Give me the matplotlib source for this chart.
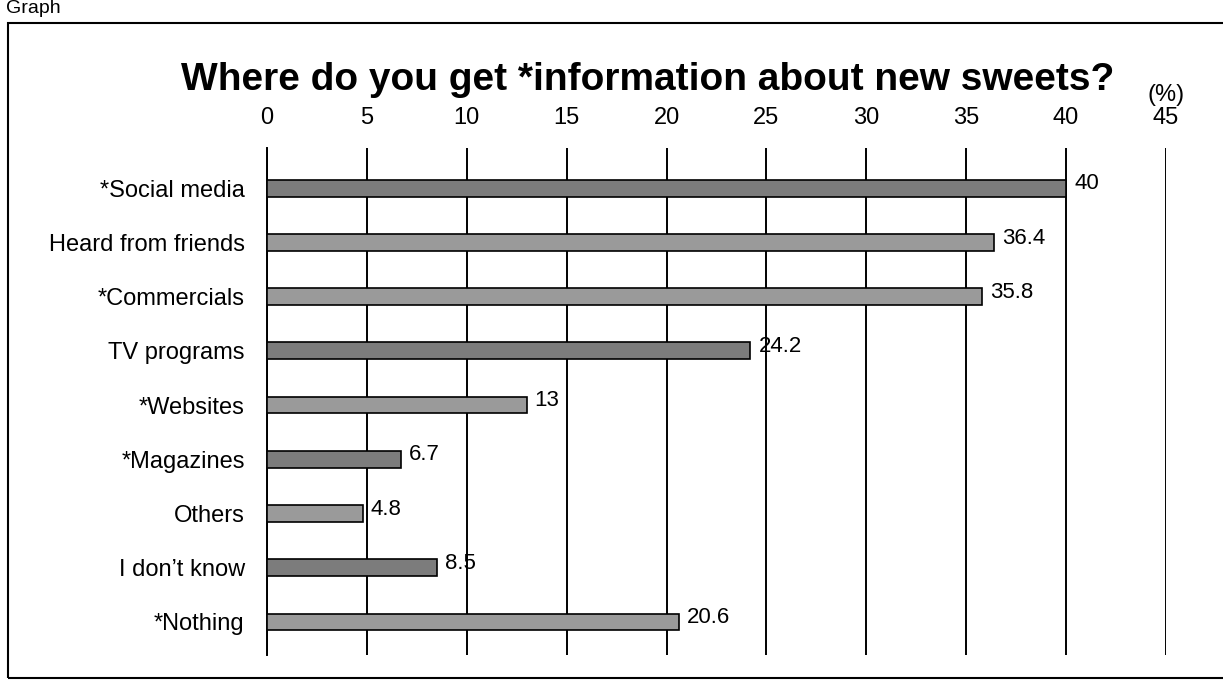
import matplotlib.pyplot as plt
from matplotlib.patches import Rectangle

plt.rcParams['font.family'] = ['Liberation Sans', 'DejaVu Sans']

# survey data (%)
categories = ['*Social media', 'Heard from friends', '*Commercials', 'TV programs',
              '*Websites', '*Magazines', 'Others', "I don\u2019t know", '*Nothing']
values = [40, 36.4, 35.8, 24.2, 13, 6.7, 4.8, 8.5, 20.6]
value_labels = ['40', '36.4', '35.8', '24.2', '13', '6.7', '4.8', '8.5', '20.6']
ticks = [0, 5, 10, 15, 20, 25, 30, 35, 40, 45]

# darker / lighter gray like the scanned bars
colors = ['#7c7c7c', '#9a9a9a', '#9a9a9a', '#7c7c7c', '#9a9a9a',
          '#7c7c7c', '#9a9a9a', '#7c7c7c', '#9a9a9a']

fig = plt.figure(figsize=(12.23, 6.82), dpi=100)
ax = fig.add_axes([267 / 1223, 27 / 682, (1166 - 267) / 1223, (655 - 148) / 682])

ypos = list(range(len(categories)))
ax.barh(ypos, values, height=0.31, color=colors, edgecolor='black', linewidth=1.2, zorder=3)

for y, v, lab in zip(ypos, values, value_labels):
    ax.text(v + 0.4, y - 0.08, lab, va='center', ha='left', fontsize=16, zorder=4)

ax.set_xlim(0, 45)
ax.set_ylim(8.61, -0.74)
ax.set_yticks(ypos)
ax.set_yticklabels(categories, fontsize=17)
ax.tick_params(axis='y', length=0, pad=16)

ax.xaxis.tick_top()
ax.set_xticks(ticks)
ax.set_xticklabels([str(t) for t in ticks], fontsize=17)
ax.tick_params(axis='x', length=0, pad=14)

ax.grid(axis='x', color='black', linewidth=1.4, zorder=1)
for s in ['top', 'right', 'bottom']:
    ax.spines[s].set_visible(False)
ax.spines['left'].set_linewidth(1.4)

fig.text(648 / 1223, 1 - 80 / 682, 'Where do you get *information about new sweets?',
         ha='center', va='center', fontsize=28, fontweight='bold')
fig.text(1166 / 1223, 1 - 95 / 682, '(%)', ha='center', va='center', fontsize=17)
fig.text(6 / 1223, 1.0, 'Graph', ha='left', va='top', fontsize=14)

# outer frame
fig.patches.append(Rectangle((8 / 1223, 4 / 682), 1.1, 1 - 27 / 682,
                             transform=fig.transFigure, fill=False,
                             edgecolor='black', linewidth=1.5))

fig.savefig('out.png', dpi=100)
